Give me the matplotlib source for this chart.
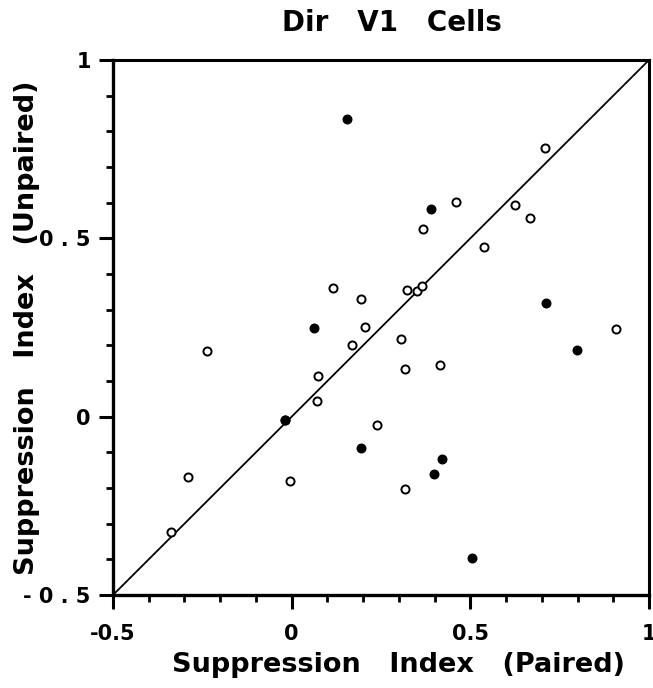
import matplotlib
matplotlib.use("Agg")
import matplotlib.pyplot as plt
from matplotlib.ticker import MultipleLocator, FixedLocator

plt.rcParams['font.family'] = ['DejaVu Sans']

# Open circles: (paired, unpaired)
open_x = [0.115, 0.194, 0.206, 0.709, 0.459, 0.367, 0.626, 0.667, 0.537, 0.324,
          0.350, 0.365, 0.909, -0.236, 0.169, 0.073, 0.071, -0.018, 0.238, -0.290,
          -0.005, -0.339, 0.305, 0.318, 0.414, 0.317]
open_y = [0.361, 0.331, 0.252, 0.754, 0.601, 0.527, 0.593, 0.557, 0.475, 0.355,
          0.352, 0.365, 0.246, 0.184, 0.200, 0.115, 0.044, -0.008, -0.024, -0.168,
          -0.180, -0.324, 0.219, 0.135, 0.145, -0.202]
# Filled circles
fill_x = [0.154, 0.390, 0.063, 0.713, -0.020, 0.194, 0.798, 0.421, 0.399, 0.504]
fill_y = [0.835, 0.581, 0.250, 0.318, -0.010, -0.088, 0.186, -0.120, -0.161, -0.396]

x_ticks = [-0.5, 0, 0.5, 1]
x_ticklabels = ["-0.5", "0", "0.5", "1"]
y_ticks = [-0.5, 0, 0.5, 1]
y_ticklabels = ["- 0 . 5", "0", "0 . 5", "1"]

title = "Dir   V1   Cells"
xlabel = "Suppression   Index   (Paired)"
ylabel = "Suppression   Index   (Unpaired)"

W, H = 653, 688
fig = plt.figure(figsize=(W/100, H/100), dpi=100)
ax = fig.add_axes([113/W, 1-595/H, (649-113)/W, (595-60)/H])

ax.plot([-0.5, 1], [-0.5, 1], color='black', lw=1.3, zorder=1)
ax.scatter(open_x, open_y, s=34, facecolors='white', edgecolors='black', linewidths=1.4, zorder=3)
ax.scatter(fill_x, fill_y, s=38, facecolors='black', edgecolors='black', linewidths=1.0, zorder=4)

ax.set_xlim(-0.5, 1)
ax.set_ylim(-0.5, 1)

ax.xaxis.set_major_locator(FixedLocator(x_ticks))
ax.yaxis.set_major_locator(FixedLocator(y_ticks))
ax.set_xticklabels(x_ticklabels, fontsize=15, fontweight='bold')
ax.set_yticklabels(y_ticklabels, fontsize=15, fontweight='bold')
ax.xaxis.set_minor_locator(MultipleLocator(0.1))
ax.yaxis.set_minor_locator(MultipleLocator(0.1))
ax.tick_params(which='major', direction='out', length=10, width=2.2)
ax.tick_params(which='minor', direction='out', length=5, width=2.0)
ax.tick_params(axis='x', which='major', pad=11)
ax.tick_params(axis='y', which='major', pad=6)
ax.tick_params(top=False, right=False, which='both')

for side in ['left', 'bottom']:
    ax.spines[side].set_linewidth(2.4)
for side in ['top', 'right']:
    ax.spines[side].set_linewidth(2.2)

fig.text(392/W, 1-23/H, title, fontsize=20, fontweight='bold', ha='center', va='center')
fig.text(398/W, 1-665/H, xlabel, fontsize=19.5, fontweight='bold', ha='center', va='center')
fig.text(27/W, 1-328/H, ylabel, fontsize=19.5, fontweight='bold', ha='center', va='center',
         rotation=90)

fig.savefig("out.png", dpi=100)
